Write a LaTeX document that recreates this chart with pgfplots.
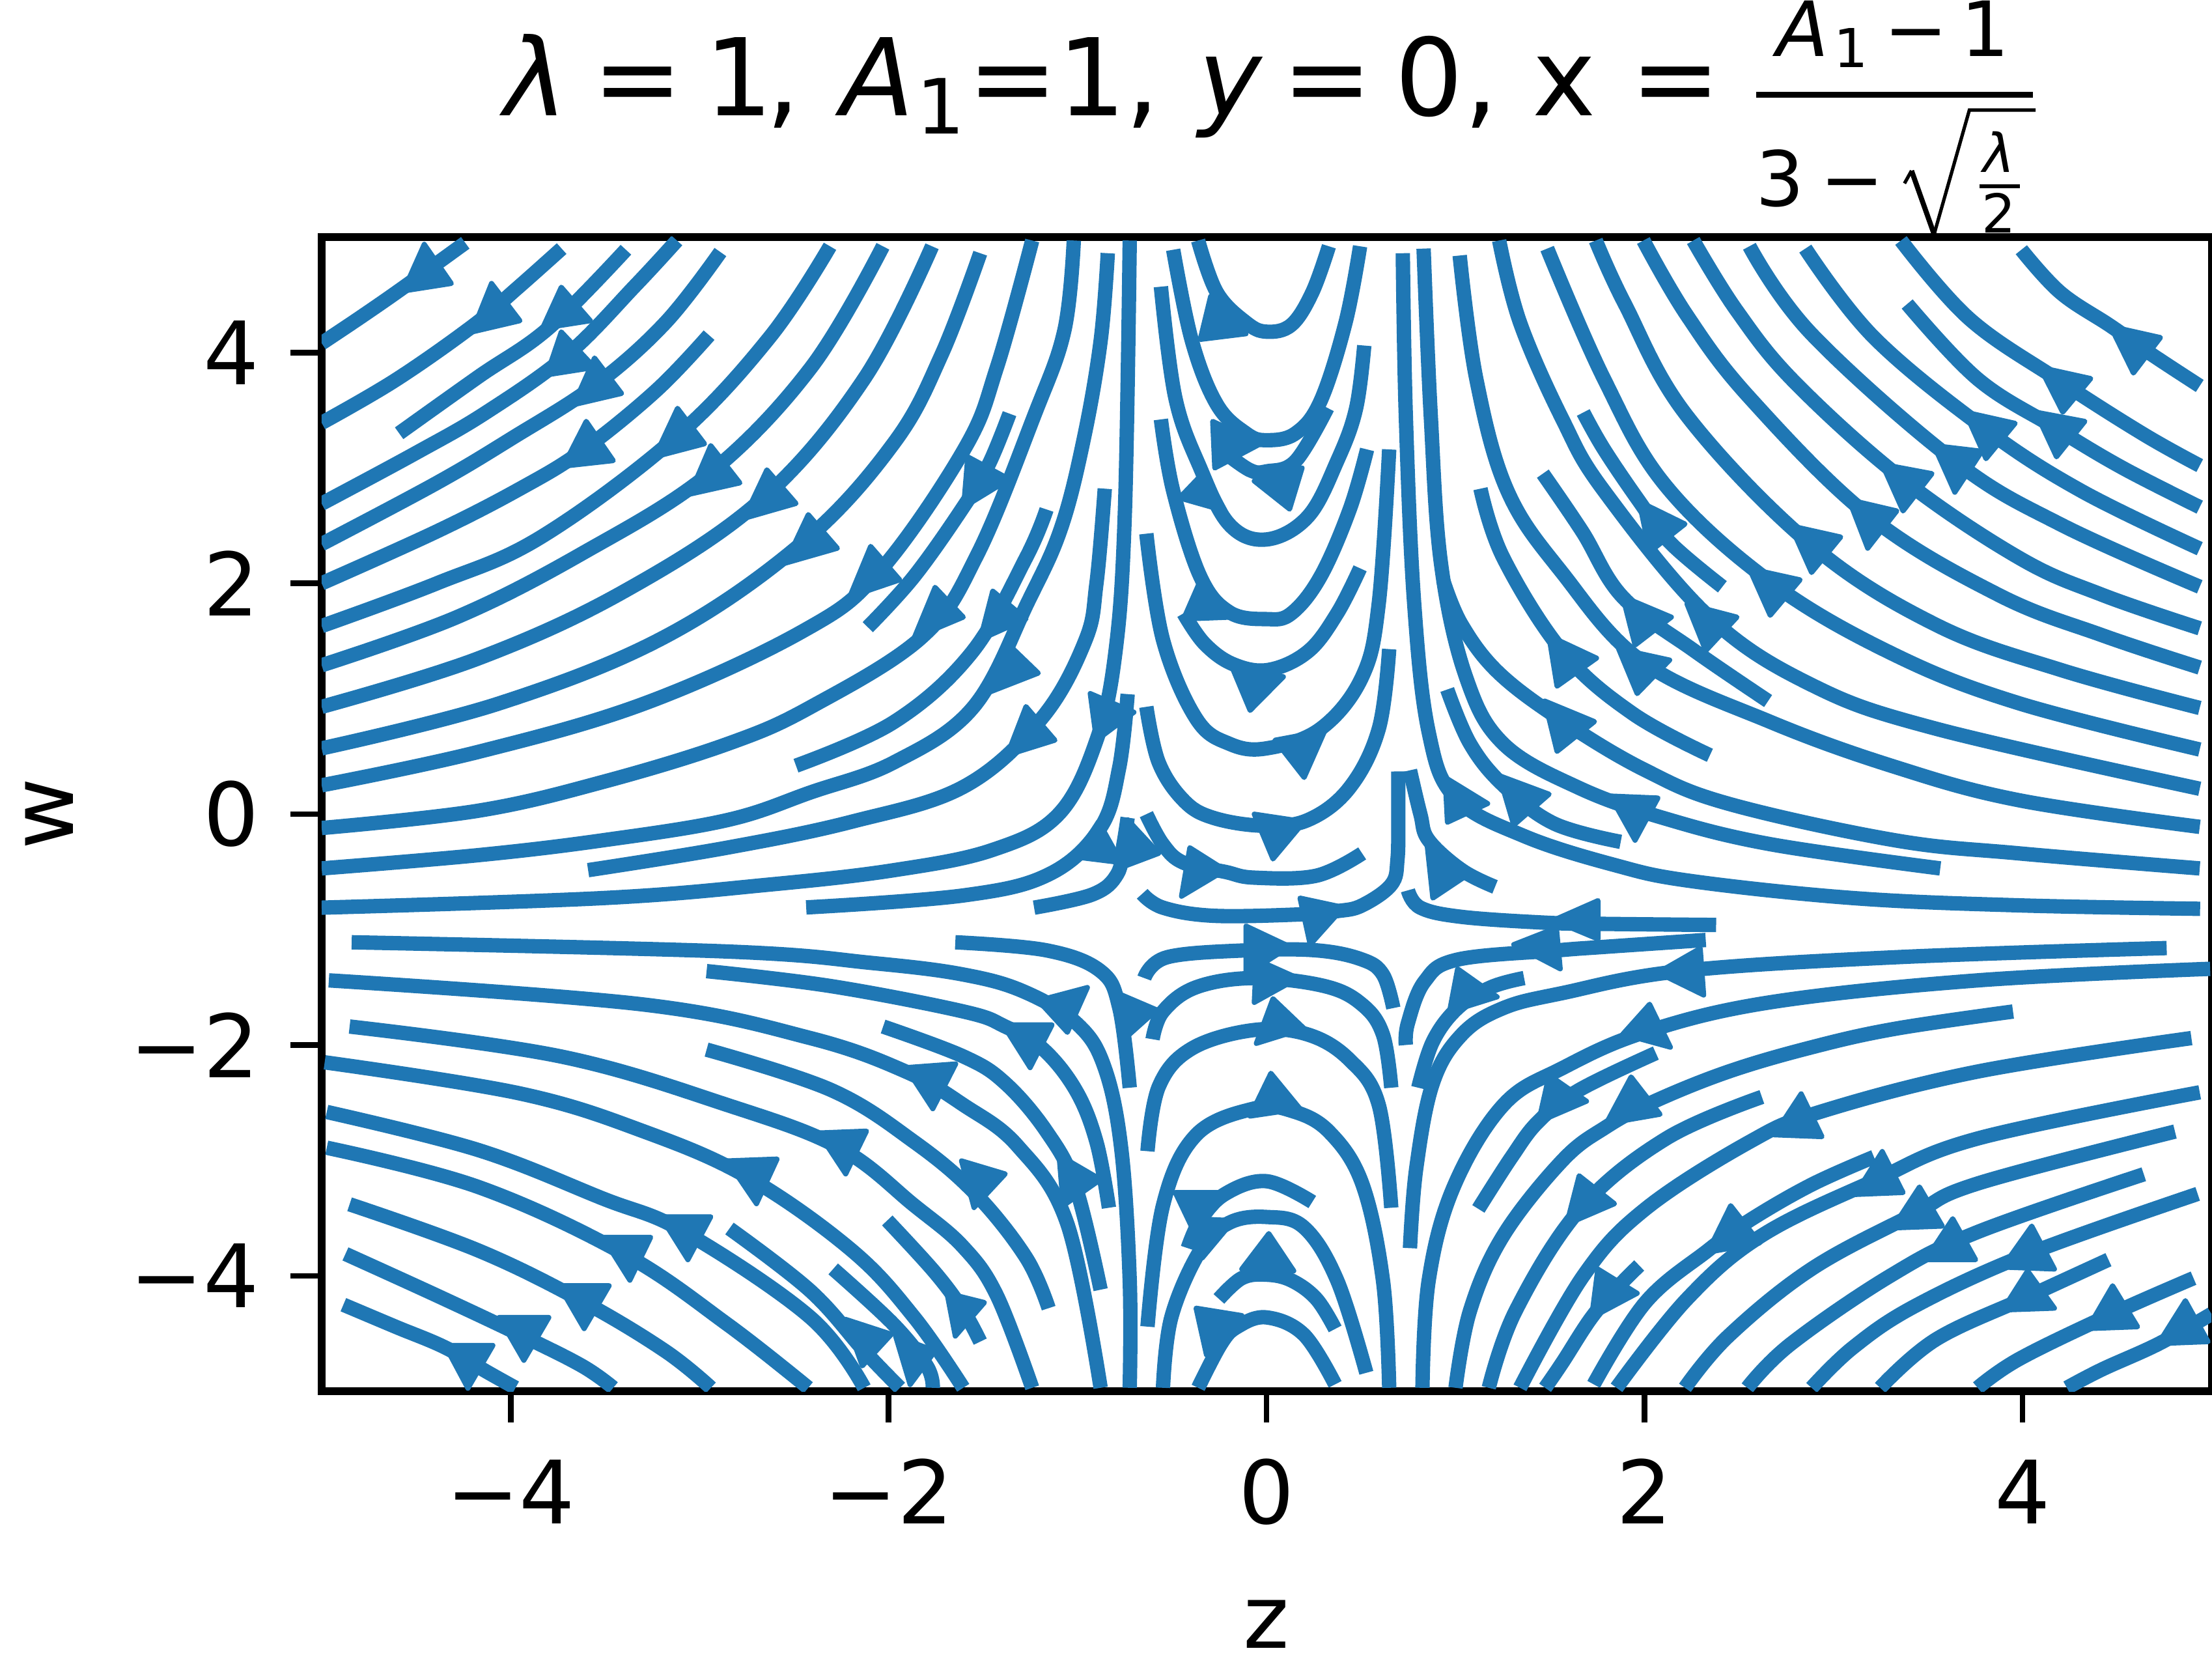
\documentclass[border=0pt]{standalone}
\usepackage{fontspec}
\setmainfont{DejaVu Sans}
\usepackage{pgfplots}
\pgfplotsset{compat=1.18}
\definecolor{sb}{HTML}{1F77B4}
\pgfplotsset{st/.style={color=sb,line width=5.1pt,line cap=butt,smooth,tension=0.62,forget plot},
 ar/.style={color=sb,fill=sb,line width=1.8pt,line join=round,forget plot}}
\newcommand{\fs}[1]{\fontsize{#1}{#1}\selectfont}
\begin{document}
\begin{tikzpicture}
\path[use as bounding box] (-114pt,-98pt) rectangle (670pt,493pt);
\begin{axis}[scale only axis,width=669.8pt,height=409pt,xmin=-5,xmax=5,ymin=-5,ymax=5,
 xtick={-4,-2,0,2,4},xticklabels={−4,−2,0,2,4},ytick={-4,-2,0,2,4},yticklabels={−4,−2,0,2,4},
 tick align=outside,tick pos=left,major tick length=11pt,minor tick num=0,
 every tick/.style={black,line width=2pt},
 axis line style={line width=2.6pt,black},
 xticklabel style={font=\fs{31},anchor=base,yshift=-36pt,inner sep=0pt},
 yticklabel style={font=\fs{31},anchor=east,xshift=-11pt,inner sep=0pt},
 every axis x label/.style={at={(axis description cs:0.5,0)},anchor=base,yshift=-91pt,font=\fs{31}\upshape},
 every axis y label/.style={at={(axis description cs:0,0.5)},anchor=base,rotate=90,yshift=88pt,font=\fs{31}\upshape},
 xlabel={z},ylabel={w}]
% top-left family
\addplot[st] coordinates {(-5,4.08)(-4.79,4.31)(-4.57,4.56)(-4.24,4.95)};
\addplot[st] coordinates {(-5,3.39)(-4.61,3.76)(-4.20,4.23)(-3.97,4.55)(-3.73,4.90)};
\addplot[st] coordinates {(-4.59,3.30)(-4.17,3.79)(-3.80,4.21)(-3.39,4.89)};
\addplot[st] coordinates {(-5,2.69)(-4.50,3.13)(-4.13,3.48)(-3.70,3.98)(-3.34,4.58)(-3.12,4.97)};
\addplot[st] coordinates {(-5,2.34)(-4.39,2.87)(-3.99,3.26)(-3.55,3.72)(-3.18,4.26)(-2.89,4.87)};
\addplot[st] coordinates {(-5,2.00)(-4.39,2.45)(-3.95,2.82)(-3.62,3.15)(-3.23,3.67)(-2.95,4.15)};
\addplot[st] coordinates {(-5,1.63)(-4.39,2.00)(-3.84,2.40)(-3.13,3.26)(-2.63,4.13)(-2.31,4.92)};
\addplot[st] coordinates {(-5,1.29)(-4.28,1.71)(-3.62,2.26)(-2.95,2.95)(-2.41,3.87)(-2.03,4.92)};
\addplot[st] coordinates {(-5,0.93)(-4.17,1.35)(-3.40,1.93)(-2.67,2.73)(-2.13,3.77)(-1.77,4.92)};
\addplot[st] coordinates {(-5,0.57)(-4.06,0.96)(-3.18,1.54)(-2.45,2.36)(-1.97,3.22)(-1.72,3.98)(-1.515,4.86)};
\addplot[st] coordinates {(-5,0.25)(-4.17,0.54)(-3.29,0.96)(-2.46,1.58)(-2.05,2.1)(-1.60,3.16)(-1.427,3.87)(-1.24,4.97)};
\addplot[st] coordinates {(-2.11,1.62)(-1.865,2.06)(-1.605,2.66)(-1.47,3.03)(-1.36,3.47)};
\addplot[st] coordinates {(-5,-0.12)(-4.17,0.03)(-3.51,0.28)(-2.85,0.61)(-2.41,0.93)(-1.82,1.54)(-1.53,2.25)(-1.23,3.45)(-1.07,4.19)(-1.02,4.97)};
\addplot[st] coordinates {(-2.49,0.42)(-1.97,0.80)(-1.56,1.40)(-1.273,2.22)(-1.164,2.64)};
\addplot[st] coordinates {(-5,-0.47)(-4.17,-0.355)(-3.51,-0.226)(-2.85,-0.05)(-2.41,0.19)(-1.97,0.45)(-1.55,0.93)(-1.262,1.84)(-1.087,2.48)(-0.966,3.26)(-0.878,4.10)(-0.84,4.86)};
\addplot[st] coordinates {(-3.59,-0.485)(-2.853,-0.29)(-2.194,-0.065)(-1.60,0.24)(-1.19,0.83)(-0.96,1.5)(-0.90,2.00)(-0.856,2.82)};
\addplot[st] coordinates {(-5,-0.81)(-3.51,-0.727)(-2.63,-0.61)(-1.97,-0.485)(-1.45,-0.31)(-1.10,0.0)(-0.90,0.64)(-0.80,1.4)(-0.75,2.6)(-0.724,4.97)};
\addplot[st] coordinates {(-2.436,-0.808)(-1.603,-0.704)(-1.15,-0.52)(-0.88,-0.12)(-0.78,0.4)(-0.735,1.04)};
\addplot[st] coordinates {(-1.23,-0.81)(-0.92,-0.695)(-0.79,-0.52)(-0.757,-0.26)(-0.735,-0.03)};
% central upper arcs
\addplot[st] coordinates {(-0.362,4.97)(-0.263,4.52)(-0.109,4.26)(0,4.18)(0.132,4.24)(0.242,4.52)(0.33,4.92)};
\addplot[st] coordinates {(-0.494,4.89)(-0.395,4.10)(-0.263,3.55)(-0.109,3.30)(0,3.24)(0.154,3.30)(0.286,3.58)(0.418,4.26)(0.495,4.92)};
\addplot[st] coordinates {(-0.219,3.13)(-0.087,2.98)(0,2.97)(0.154,3.06)(0.322,3.52)};
\addplot[st] coordinates {(-0.559,4.57)(-0.483,3.61)(-0.351,3.0)(-0.197,2.51)(0,2.38)(0.22,2.58)(0.374,3.06)(0.473,3.51)(0.517,4.06)};
\addplot[st] coordinates {(-0.559,3.42)(-0.494,2.80)(-0.351,2.06)(-0.197,1.75)(0,1.69)(0.132,1.74)(0.286,2.06)(0.44,2.64)(0.532,3.16)};
\addplot[st] coordinates {(-0.439,1.74)(-0.33,1.48)(-0.178,1.30)(0.011,1.25)(0.22,1.41)(0.374,1.74)(0.495,2.13)};
\addplot[st] coordinates {(-0.636,2.43)(-0.548,1.51)(-0.373,0.83)(-0.197,0.61)(0,0.57)(0.286,0.74)(0.506,1.19)(0.594,1.83)(0.649,3.16)};
\addplot[st] coordinates {(-0.636,0.93)(-0.571,0.45)(-0.439,0.12)(-0.285,-0.03)(-0.021,-0.10)(0.22,-0.05)(0.44,0.23)(0.594,0.74)(0.649,1.43)};
\addplot[st] coordinates {(-0.636,0)(-0.549,-0.26)(-0.44,-0.42)(-0.219,-0.50)(-0.065,-0.55)(0.264,-0.533)(0.506,-0.34)};
% top-right family
\addplot[st] coordinates {(0.721,4.86)(0.737,3.45)(0.781,1.83)(0.858,0.71)(1.0,0.14)(1.363,-0.19)(1.84,-0.44)(2.249,-0.58)(3.104,-0.727)(3.98,-0.79)(4.94,-0.82)};
\addplot[st] coordinates {(0.831,4.90)(0.869,3.45)(0.924,2.16)(1.055,1.19)(1.253,0.61)(1.65,0.23)(2.093,-0.03)(2.665,-0.26)(3.565,-0.47)};
\addplot[st] coordinates {(1.022,4.84)(1.11,3.77)(1.275,2.80)(1.565,2.09)(1.99,1.32)(2.665,0.80)(3.324,0.41)(3.983,0.12)(4.938,-0.11)};
\addplot[st] coordinates {(1.231,4.97)(1.341,4.26)(1.566,3.42)(1.786,2.80)(2.335,1.72)(2.884,1.12)(3.543,0.74)(4.938,0.22)};
\addplot[st] coordinates {(1.485,4.90)(1.786,3.77)(2.115,2.84)(2.675,2.0)(3.324,1.38)(3.983,0.96)(4.938,0.56)};
\addplot[st] coordinates {(1.742,4.97)(1.896,4.42)(2.225,3.45)(2.884,2.33)(3.543,1.64)(4.202,1.25)(4.938,0.92)};
\addplot[st] coordinates {(1.994,4.97)(2.225,4.32)(2.555,3.61)(3.19,2.58)(3.873,1.90)(4.422,1.55)(4.938,1.27)};
\addplot[st] coordinates {(2.258,4.97)(2.489,4.36)(2.796,3.74)(3.367,2.9)(3.983,2.22)(4.422,1.90)(4.938,1.61)};
\addplot[st] coordinates {(2.555,4.92)(2.884,4.16)(3.64,3.06)(4.202,2.51)(4.938,1.97)};
\addplot[st] coordinates {(2.851,4.90)(3.214,4.13)(3.80,3.34)(4.312,2.80)(4.938,2.30)};
\addplot[st] coordinates {(3.39,4.42)(3.763,3.77)(4.17,3.35)(4.53,3.0)(4.938,2.66)};
\addplot[st] coordinates {(3.357,4.97)(3.72,4.29)(4.2,3.75)(4.642,3.29)(4.938,3.02)};
\addplot[st] coordinates {(3.994,4.89)(4.20,4.52)(4.466,4.23)(4.686,3.98)(4.938,3.71)};
\addplot[st] coordinates {(0.934,2.03)(1.033,1.64)(1.231,1.22)(1.573,0.80)(2.005,0.38)(2.445,0.09)(3.324,-0.226)(3.983,-0.34)(4.938,-0.47)};
\addplot[st] coordinates {(1.132,2.82)(1.253,2.22)(1.57,1.40)(1.939,0.87)(2.346,0.51)};
\addplot[st] coordinates {(1.462,2.95)(1.67,2.45)(1.885,1.88)(2.26,1.42)(2.654,0.98)};
\addplot[st] coordinates {(1.676,3.48)(1.786,3.16)(1.972,2.71)(2.137,2.35)(2.412,1.97)};
\addplot[st] coordinates {(0.956,1.08)(1.077,0.61)(1.253,0.25)(1.52,-0.08)(1.874,-0.24)};
\addplot[st] coordinates {(0.759,0.38)(0.814,0)(0.858,-0.226)(1.033,-0.485)(1.209,-0.63)};
% saddle region
\addplot[st] coordinates {(0.697,0.37)(0.697,0.0)(0.693,-0.39)(0.66,-0.61)(0.506,-0.79)(0.374,-0.84)(0.155,-0.87)(-0.285,-0.88)(-0.548,-0.81)(-0.658,-0.69)};
\addplot[st] coordinates {(0.748,-0.66)(0.814,-0.81)(1.033,-0.89)(1.473,-0.94)(1.753,-0.95)(2.379,-0.96)};
\addplot[st] coordinates {(2.324,-1.09)(1.786,-1.15)(1.539,-1.18)(1.011,-1.26)(0.836,-1.45)(0.748,-1.81)(0.737,-2.00)};
\addplot[st] coordinates {(4.763,-1.16)(3.324,-1.24)(2.19,-1.36)(1.566,-1.55)(1.253,-1.68)(1.033,-1.91)(0.88,-2.33)(0.792,-3.07)(0.759,-3.76)};
\addplot[st] coordinates {(1.363,-1.42)(1.187,-1.50)(1.011,-1.68)(0.88,-1.97)(0.803,-2.37)};
\addplot[st] coordinates {(-0.647,-1.42)(-0.527,-1.24)(-0.109,-1.18)(0.264,-1.18)(0.506,-1.26)(0.616,-1.39)(0.671,-1.68)};
\addplot[st] coordinates {(-0.603,-1.95)(-0.548,-1.71)(-0.373,-1.50)(-0.065,-1.42)(0.308,-1.49)(0.506,-1.65)(0.616,-1.91)(0.66,-2.37)};
\addplot[st] coordinates {(-0.63,-2.92)(-0.57,-2.36)(-0.395,-2.03)(-0.065,-1.87)(0.22,-1.91)(0.44,-2.13)(0.594,-2.52)(0.66,-3.41)};
\addplot[st] coordinates {(-0.63,-4.44)(-0.548,-3.39)(-0.373,-2.78)(-0.065,-2.55)(0.132,-2.57)(0.33,-2.75)(0.506,-3.20)(0.616,-4.04)(0.649,-4.97)};
\addplot[st] coordinates {(0.242,-3.36)(0,-3.18)(-0.219,-3.29)(-0.351,-3.52)(-0.417,-3.76)};
\addplot[st] coordinates {(0.528,-4.84)(0.374,-4.04)(0.198,-3.58)(0,-3.49)(-0.197,-3.54)(-0.351,-3.78)(-0.504,-4.36)(-0.548,-4.97)};
\addplot[st] coordinates {(-0.252,-4.20)(-0.131,-4.02)(0,-3.99)(0.132,-4.04)(0.264,-4.20)(0.363,-4.46)};
\addplot[st] coordinates {(-0.362,-4.97)(-0.241,-4.59)(-0.153,-4.44)(0,-4.36)(0.198,-4.51)(0.363,-4.94)};
% lower-left family
\addplot[st] coordinates {(-1.647,-1.11)(-1.164,-1.18)(-0.878,-1.36)(-0.779,-1.68)(-0.724,-2.37)};
\addplot[st] coordinates {(-4.841,-1.11)(-2.853,-1.19)(-2.084,-1.29)(-1.603,-1.39)(-1.28,-1.54)(-1.0,-1.82)(-0.856,-2.20)(-0.768,-2.91)(-0.724,-4.04)(-0.724,-4.97)};
\addplot[st] coordinates {(-2.963,-1.36)(-2.304,-1.49)(-1.603,-1.71)(-1.383,-1.84)(-1.186,-2.03)(-1.01,-2.39)(-0.9,-2.84)(-0.834,-3.41)};
\addplot[st] coordinates {(-2.029,-1.84)(-1.603,-2.10)(-1.383,-2.33)(-1.164,-2.75)(-1.01,-3.23)(-0.878,-4.12)};
\addplot[st] coordinates {(-4.962,-1.44)(-3.293,-1.65)(-2.414,-1.94)(-1.909,-2.23)(-1.603,-2.52)(-1.317,-2.875)(-1.054,-3.55)(-0.878,-4.97)};
\addplot[st] coordinates {(-4.852,-1.84)(-3.732,-2.10)(-2.853,-2.52)(-2.26,-2.89)(-1.864,-3.39)(-1.605,-3.75)(-1.427,-4.17)(-1.24,-4.97)};
\addplot[st] coordinates {(-2.963,-2.04)(-2.304,-2.39)(-1.864,-2.84)(-1.54,-3.29)(-1.273,-3.84)(-1.153,-4.28)};
\addplot[st] coordinates {(-4.984,-2.15)(-3.95,-2.42)(-3.293,-2.75)(-2.74,-3.15)(-2.194,-3.78)(-1.864,-4.36)(-1.605,-4.97)};
\addplot[st] coordinates {(-4.973,-2.58)(-4.171,-2.91)(-3.512,-3.33)(-3.08,-3.62)(-2.414,-4.36)(-2.129,-4.97)};
\addplot[st] coordinates {(-4.973,-2.89)(-4.171,-3.23)(-3.40,-3.81)(-2.853,-4.42)(-2.425,-4.97)};
\addplot[st] coordinates {(-4.852,-3.38)(-4.171,-3.78)(-3.62,-4.22)(-3.183,-4.65)(-2.94,-4.97)};
\addplot[st] coordinates {(-4.874,-3.81)(-4.391,-4.17)(-3.95,-4.51)(-3.622,-4.78)(-3.457,-4.97)};
\addplot[st] coordinates {(-4.885,-4.25)(-4.61,-4.44)(-4.347,-4.62)(-4.127,-4.83)(-3.974,-4.97)};
\addplot[st] coordinates {(-2.842,-3.59)(-2.414,-4.13)(-2.129,-4.65)(-1.94,-4.97)};
\addplot[st] coordinates {(-2.293,-3.94)(-1.974,-4.42)(-1.798,-4.78)(-1.766,-4.97)};
\addplot[st] coordinates {(-2.007,-3.52)(-1.755,-3.97)(-1.605,-4.30)(-1.515,-4.57)};
% lower-right family
\addplot[st] coordinates {(4.993,-1.34)(3.763,-1.44)(2.665,-1.63)(2.0,-1.89)(1.566,-2.20)(1.253,-2.52)(0.99,-3.23)(0.858,-4.04)(0.825,-4.97)};
\addplot[st] coordinates {(2.06,-2.07)(1.654,-2.39)(1.44,-2.66)(1.297,-2.97)(1.121,-3.42)};
\addplot[st] coordinates {(3.95,-1.71)(3.324,-1.86)(2.884,-2.02)(2.445,-2.23)(2.049,-2.49)(1.797,-2.71)(1.566,-3.0)(1.253,-3.65)(1.077,-4.30)(1.0,-4.97)};
\addplot[st] coordinates {(2.621,-2.45)(2.115,-2.81)(1.66,-3.42)(1.319,-4.30)(1.176,-4.97)};
\addplot[st] coordinates {(4.894,-1.94)(3.763,-2.23)(2.928,-2.58)(2.555,-2.84)(2.005,-3.42)(1.676,-4.0)(1.341,-4.97)};
\addplot[st] coordinates {(1.972,-3.91)(1.863,-4.09)(1.72,-4.36)(1.566,-4.75)(1.474,-4.97)};
\addplot[st] coordinates {(3.214,-2.97)(2.884,-3.21)(2.555,-3.52)(2.335,-3.78)(2.005,-4.23)(1.731,-4.94)};
\addplot[st] coordinates {(4.938,-2.41)(3.763,-2.81)(3.21,-3.18)(2.621,-3.65)(2.225,-4.20)(1.852,-4.97)};
\addplot[st] coordinates {(4.807,-2.75)(3.763,-3.20)(3.42,-3.47)(2.884,-3.94)(2.445,-4.52)(2.214,-4.97)};
\addplot[st] coordinates {(4.642,-3.12)(3.763,-3.62)(3.3,-4.0)(2.774,-4.59)(2.544,-4.97)};
\addplot[st] coordinates {(4.927,-3.29)(4.03,-3.81)(3.433,-4.26)(3.104,-4.62)(2.884,-4.97)};
\addplot[st] coordinates {(4.455,-3.86)(4.03,-4.18)(3.543,-4.55)(3.247,-4.97)};
\addplot[st] coordinates {(4.905,-4.02)(4.46,-4.34)(3.983,-4.72)(3.763,-4.97)};
\addplot[st] coordinates {(5.0,-4.33)(4.719,-4.59)(4.422,-4.81)(4.235,-4.97)};
% arrow heads
\addplot[ar] coordinates {(-4.457,4.937)(-4.314,4.598)(-4.567,4.533)} -- cycle;
\addplot[ar] coordinates {(-4.101,4.598)(-3.951,4.275)(-4.204,4.178)} -- cycle;
\addplot[ar] coordinates {(-3.732,4.565)(-3.578,4.275)(-3.831,4.21)} -- cycle;
\addplot[ar] coordinates {(-3.732,4.178)(-3.556,3.871)(-3.809,3.806)} -- cycle;
\addplot[ar] coordinates {(-3.556,3.952)(-3.413,3.645)(-3.666,3.548)} -- cycle;
\addplot[ar] coordinates {(-3.6,3.403)(-3.457,3.063)(-3.721,3.015)} -- cycle;
\addplot[ar] coordinates {(-3.117,3.516)(-2.974,3.209)(-3.237,3.096)} -- cycle;
\addplot[ar] coordinates {(-2.941,3.193)(-2.787,2.87)(-3.051,2.773)} -- cycle;
\addplot[ar] coordinates {(-2.644,2.983)(-2.49,2.692)(-2.765,2.563)} -- cycle;
\addplot[ar] coordinates {(-2.425,2.595)(-2.271,2.304)(-2.546,2.175)} -- cycle;
\addplot[ar] coordinates {(-2.095,2.32)(-1.941,2.03)(-2.205,1.884)} -- cycle;
\addplot[ar] coordinates {(-1.754,1.965)(-1.605,1.707)(-1.864,1.529)} -- cycle;
\addplot[ar] coordinates {(-1.581,3.096)(-1.361,2.902)(-1.603,2.66)} -- cycle;
\addplot[ar] coordinates {(-1.449,1.933)(-1.273,1.691)(-1.515,1.513)} -- cycle;
\addplot[ar] coordinates {(-1.372,1.481)(-1.208,1.222)(-1.46,1.061)} -- cycle;
\addplot[ar] coordinates {(-1.273,0.932)(-1.12,0.641)(-1.372,0.512)} -- cycle;
\addplot[ar] coordinates {(-0.933,1.045)(-0.702,0.883)(-0.9,0.641)} -- cycle;
\addplot[ar] coordinates {(-0.296,4.485)(-0.109,4.162)(-0.351,4.113)} -- cycle;
\addplot[ar] coordinates {(-0.285,3.403)(-0.032,3.209)(-0.274,2.999)} -- cycle;
\addplot[ar] coordinates {(-0.065,2.886)(0.188,2.999)(0.122,2.643)} -- cycle;
\addplot[ar] coordinates {(-0.329,2.966)(-0.219,2.627)(-0.461,2.74)} -- cycle;
\addplot[ar] coordinates {(-0.34,2.062)(-0.186,1.707)(-0.439,1.691)} -- cycle;
\addplot[ar] coordinates {(-0.186,1.287)(0.089,1.19)(-0.087,0.899)} -- cycle;
\addplot[ar] coordinates {(0.045,0.641)(0.308,0.722)(0.199,0.318)} -- cycle;
\addplot[ar] coordinates {(-0.065,0)(0.199,-0.065)(0.034,-0.388)} -- cycle;
\addplot[ar] coordinates {(0.945,0.318)(1.17,0.092)(0.957,-0.07)} -- cycle;
\addplot[ar] coordinates {(1.231,0.334)(1.495,0.173)(1.308,-0.095)} -- cycle;
\addplot[ar] coordinates {(0.847,-0.226)(1.088,-0.5)(0.88,-0.727)} -- cycle;
\addplot[ar] coordinates {(0.177,-0.727)(0.407,-0.808)(0.231,-1.13)} -- cycle;
\addplot[ar] coordinates {(1.517,-0.92)(1.754,-0.749)(1.754,-1.082)} -- cycle;
\addplot[ar] coordinates {(1.308,-1.13)(1.534,-0.985)(1.554,-1.34)} -- cycle;
\addplot[ar] coordinates {(2.071,-1.373)(2.295,-1.163)(2.313,-1.567)} -- cycle;
\addplot[ar] coordinates {(-0.109,-0.969)(0.122,-1.147)(-0.109,-1.389)} -- cycle;
\addplot[ar] coordinates {(-0.054,-1.26)(0.166,-1.421)(-0.065,-1.631)} -- cycle;
\addplot[ar] coordinates {(0.034,-1.599)(0.199,-1.857)(-0.054,-1.986)} -- cycle;
\addplot[ar] coordinates {(0.023,-2.245)(0.177,-2.552)(-0.087,-2.616)} -- cycle;
\addplot[ar] coordinates {(-0.483,-3.278)(-0.197,-3.278)(-0.384,-3.618)} -- cycle;
\addplot[ar] coordinates {(-0.395,-3.505)(-0.175,-3.521)(-0.34,-3.844)} -- cycle;
\addplot[ar] coordinates {(0.012,-3.634)(0.144,-3.957)(-0.131,-3.941)} -- cycle;
\addplot[ar] coordinates {(-0.373,-4.28)(-0.131,-4.344)(-0.318,-4.684)} -- cycle;
\addplot[ar] coordinates {(-0.735,-0.048)(-0.57,-0.339)(-0.779,-0.468)} -- cycle;
\addplot[ar] coordinates {(-0.889,-0.065)(-0.768,-0.42)(-1.01,-0.371)} -- cycle;
\addplot[ar] coordinates {(-0.406,-0.291)(-0.219,-0.485)(-0.45,-0.711)} -- cycle;
\addplot[ar] coordinates {(-0.79,-1.55)(-0.581,-1.696)(-0.768,-1.97)} -- cycle;
\addplot[ar] coordinates {(-1.208,-1.615)(-0.948,-1.502)(-1.054,-1.89)} -- cycle;
\addplot[ar] coordinates {(-1.394,-1.825)(-1.135,-1.825)(-1.251,-2.196)} -- cycle;
\addplot[ar] coordinates {(-1.098,-2.955)(-0.878,-3.165)(-1.076,-3.392)} -- cycle;
\addplot[ar] coordinates {(-1.614,-3.004)(-1.383,-3.117)(-1.548,-3.408)} -- cycle;
\addplot[ar] coordinates {(-1.691,-4.15)(-1.493,-4.231)(-1.647,-4.522)} -- cycle;
\addplot[ar] coordinates {(-1.908,-2.196)(-1.645,-2.164)(-1.766,-2.552)} -- cycle;
\addplot[ar] coordinates {(-2.37,-2.762)(-2.117,-2.746)(-2.227,-3.117)} -- cycle;
\addplot[ar] coordinates {(-2.853,-3.004)(-2.59,-2.988)(-2.699,-3.375)} -- cycle;
\addplot[ar] coordinates {(-3.205,-3.488)(-2.941,-3.488)(-3.062,-3.86)} -- cycle;
\addplot[ar] coordinates {(-3.512,-3.666)(-3.259,-3.666)(-3.369,-4.038)} -- cycle;
\addplot[ar] coordinates {(-3.743,-4.086)(-3.479,-4.086)(-3.611,-4.457)} -- cycle;
\addplot[ar] coordinates {(-4.061,-4.361)(-3.798,-4.361)(-3.93,-4.732)} -- cycle;
\addplot[ar] coordinates {(-4.347,-4.603)(-4.094,-4.603)(-4.226,-4.974)} -- cycle;
\addplot[ar] coordinates {(-2.227,-4.377)(-1.985,-4.506)(-2.139,-4.78)} -- cycle;
\addplot[ar] coordinates {(-1.963,-4.522)(-1.754,-4.651)(-1.886,-4.942)} -- cycle;
\addplot[ar] coordinates {(4.466,4.226)(4.73,4.129)(4.587,3.822)} -- cycle;
\addplot[ar] coordinates {(4.093,3.871)(4.361,3.774)(4.213,3.483)} -- cycle;
\addplot[ar] coordinates {(4.07,3.483)(4.33,3.403)(4.18,3.096)} -- cycle;
\addplot[ar] coordinates {(3.697,3.483)(3.961,3.386)(3.807,3.08)} -- cycle;
\addplot[ar] coordinates {(3.532,3.193)(3.785,3.144)(3.642,2.789)} -- cycle;
\addplot[ar] coordinates {(3.258,3.031)(3.521,2.95)(3.368,2.627)} -- cycle;
\addplot[ar] coordinates {(3.082,2.724)(3.335,2.627)(3.181,2.304)} -- cycle;
\addplot[ar] coordinates {(2.774,2.498)(3.038,2.401)(2.884,2.094)} -- cycle;
\addplot[ar] coordinates {(2.555,2.127)(2.823,2.03)(2.665,1.723)} -- cycle;
\addplot[ar] coordinates {(2.225,1.82)(2.489,1.707)(2.324,1.416)} -- cycle;
\addplot[ar] coordinates {(1.885,1.884)(2.142,1.707)(1.95,1.465)} -- cycle;
\addplot[ar] coordinates {(1.863,1.432)(2.133,1.335)(1.961,1.045)} -- cycle;
\addplot[ar] coordinates {(1.972,2.708)(2.214,2.514)(2.027,2.272)} -- cycle;
\addplot[ar] coordinates {(1.494,1.545)(1.746,1.352)(1.537,1.109)} -- cycle;
\addplot[ar] coordinates {(1.472,0.98)(1.735,0.802)(1.537,0.544)} -- cycle;
\addplot[ar] coordinates {(1.819,0.157)(2.071,0.14)(1.95,-0.226)} -- cycle;
\addplot[ar] coordinates {(1.885,-1.906)(2.027,-1.647)(2.137,-2.019)} -- cycle;
\addplot[ar] coordinates {(1.495,-2.261)(1.693,-2.487)(1.44,-2.665)} -- cycle;
\addplot[ar] coordinates {(1.011,-1.34)(1.22,-1.583)(0.968,-1.712)} -- cycle;
\addplot[ar] coordinates {(1.929,-2.277)(2.082,-2.6)(1.797,-2.681)} -- cycle;
\addplot[ar] coordinates {(1.654,-3.133)(1.841,-3.375)(1.588,-3.553)} -- cycle;
\addplot[ar] coordinates {(2.829,-2.423)(2.939,-2.794)(2.686,-2.778)} -- cycle;
\addplot[ar] coordinates {(3.258,-2.923)(3.368,-3.278)(3.115,-3.295)} -- cycle;
\addplot[ar] coordinates {(2.456,-3.392)(2.61,-3.715)(2.335,-3.795)} -- cycle;
\addplot[ar] coordinates {(3.455,-3.23)(3.576,-3.569)(3.313,-3.585)} -- cycle;
\addplot[ar] coordinates {(3.631,-3.505)(3.752,-3.86)(3.488,-3.86)} -- cycle;
\addplot[ar] coordinates {(4.049,-3.569)(4.169,-3.941)(3.895,-3.924)} -- cycle;
\addplot[ar] coordinates {(4.027,-3.957)(4.169,-4.28)(3.895,-4.296)} -- cycle;
\addplot[ar] coordinates {(4.477,-4.086)(4.609,-4.441)(4.345,-4.457)} -- cycle;
\addplot[ar] coordinates {(4.862,-4.215)(4.982,-4.57)(4.719,-4.587)} -- cycle;
\addplot[ar] coordinates {(1.753,-3.941)(1.961,-4.151)(1.72,-4.361)} -- cycle;
\end{axis}
% title, set piece by piece in DejaVu Sans
\tikzset{tt/.style={anchor=base,inner sep=0pt}}
\node[tt,font=\fs{38}\itshape] at (76pt,452pt) {λ};
\node[tt,font=\fs{38}] at (112pt,452pt) {=};
\node[tt,font=\fs{38}] at (148pt,452pt) {1};
\node[tt,font=\fs{38}] at (163.5pt,452pt) {,};
\node[tt,font=\fs{38}\itshape] at (197pt,452pt) {A};
\node[tt,font=\fs{27}] at (219.5pt,445.5pt) {1};
\node[tt,font=\fs{38}] at (245pt,452pt) {=};
\node[tt,font=\fs{38}] at (273pt,452pt) {1};
\node[tt,font=\fs{38}] at (291pt,452pt) {,};
\node[tt,font=\fs{38}\itshape] at (322pt,452pt) {y};
\node[tt,font=\fs{38}] at (356.5pt,452pt) {=};
\node[tt,font=\fs{38}] at (392.5pt,452pt) {0};
\node[tt,font=\fs{38}] at (411pt,452pt) {,};
\node[tt,font=\fs{38}] at (440.5pt,452pt) {x};
\node[tt,font=\fs{38}] at (480pt,452pt) {=};
\draw[line width=2.1pt] (508.5pt,459.5pt) -- (606.5pt,459.5pt);
\node[tt,font=\fs{27}\itshape] at (525pt,473pt) {A};
\node[tt,font=\fs{19}] at (542pt,469pt) {1};
\node[tt,font=\fs{27}] at (565pt,473pt) {−};
\node[tt,font=\fs{27}] at (589.5pt,473pt) {1};
\node[tt,font=\fs{27}] at (517pt,420pt) {3};
\node[tt,font=\fs{27}] at (542.5pt,420pt) {−};
\draw[line width=1.2pt,line join=miter] (561pt,428pt) -- (563.5pt,432.5pt);
\draw[line width=1.8pt,line join=miter] (563.5pt,432.5pt) -- (571.5pt,410pt);
\draw[line width=1.2pt,line join=miter] (571.5pt,410pt) -- (584pt,454pt) -- (607.5pt,454pt);
\node[tt,font=\fs{19}\itshape] at (594.5pt,432pt) {λ};
\draw[line width=1.2pt] (587.5pt,427pt) -- (602pt,427pt);
\node[tt,font=\fs{19}] at (594.5pt,410.5pt) {2};
\end{tikzpicture}
\end{document}
